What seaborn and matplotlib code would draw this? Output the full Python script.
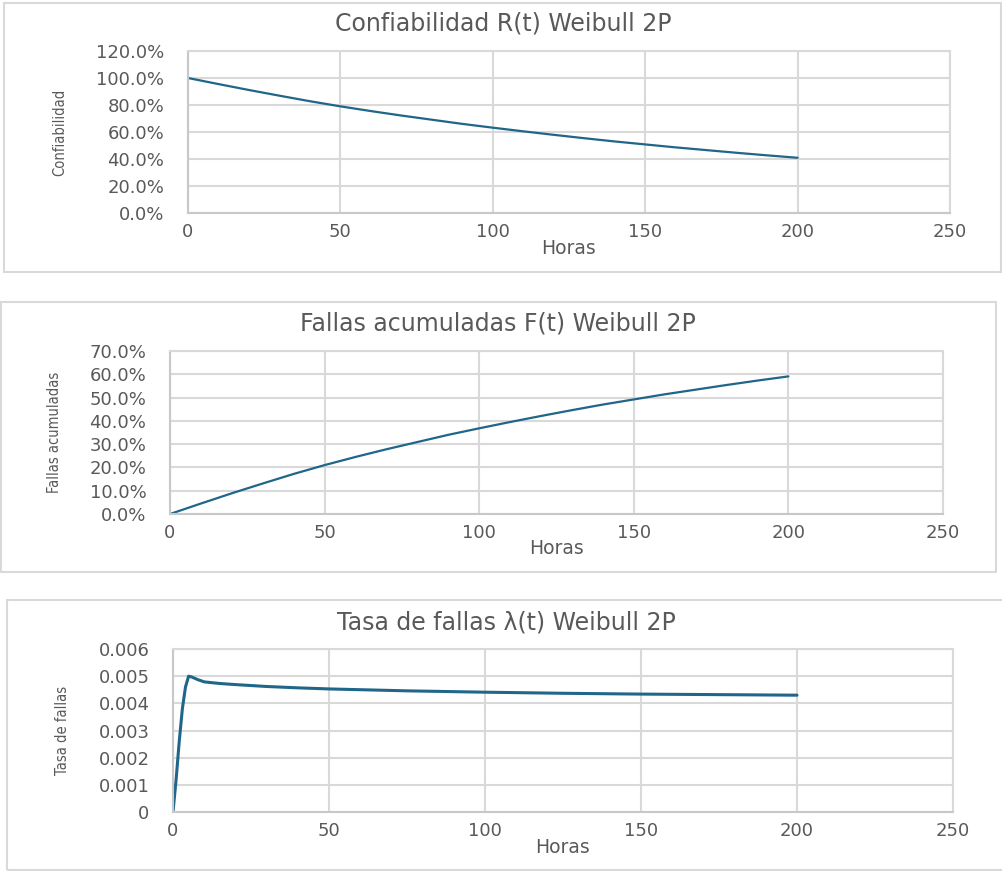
import matplotlib
matplotlib.use("Agg")
import matplotlib.pyplot as plt
import seaborn as sns
from matplotlib.patches import Rectangle
from matplotlib.ticker import PercentFormatter, FuncFormatter, MultipleLocator

# Weibull 2P results by operating hours
horas = [0, 10, 20, 30, 40, 50, 60, 70, 80, 90, 100,
         110, 120, 130, 140, 150, 160, 170, 180, 190, 200]
confiabilidad = [1.000, 0.955, 0.911, 0.869, 0.828, 0.790, 0.755, 0.722, 0.691, 0.660, 0.632,
                 0.605, 0.579, 0.554, 0.530, 0.508, 0.486, 0.466, 0.446, 0.427, 0.409]
fallas_acum = [0.000, 0.045, 0.089, 0.131, 0.172, 0.210, 0.245, 0.278, 0.309, 0.340, 0.368,
               0.395, 0.421, 0.446, 0.470, 0.492, 0.514, 0.534, 0.554, 0.573, 0.591]

horas_tasa = [0, 1, 2, 3, 4, 5, 6, 8, 10, 15, 20, 30, 40, 50,
              75, 100, 125, 150, 175, 200]
tasa_fallas = [0.0, 0.0012, 0.0026, 0.0038, 0.0046, 0.0050, 0.00497, 0.00487, 0.00479,
               0.00473, 0.00469, 0.00462, 0.00457, 0.00453, 0.00446, 0.00441,
               0.00437, 0.00434, 0.00432, 0.00430]

titulos = ["Confiabilidad R(t) Weibull 2P",
           "Fallas acumuladas F(t) Weibull 2P",
           "Tasa de fallas λ(t) Weibull 2P"]
etiquetas_y = ["Confiabilidad", "Fallas acumuladas", "Tasa de fallas"]
etiqueta_x = "Horas"

LINE = "#1F6689"
GRID = "#D9D9D9"
TEXT = "#595959"

sns.set_theme(style="white")
plt.rcParams["font.family"] = ["DejaVu Sans"]

W, H = 1003, 871
fig = plt.figure(figsize=(W / 100, H / 100), dpi=100)
fig.patch.set_facecolor("white")


def frame(x0, y0, x1, y1):
    fig.patches.append(Rectangle((x0 / W, 1 - y1 / H), (x1 - x0) / W, (y1 - y0) / H,
                                 transform=fig.transFigure, fill=False,
                                 ec=GRID, lw=1.5, zorder=0))


def panel(box, ylabel_x, xlabel_y):
    l, t, r, b = box
    ax = fig.add_axes([l / W, 1 - b / H, (r - l) / W, (b - t) / H])
    ax.set_facecolor("white")
    ax.grid(True, color=GRID, lw=1.5)
    ax.set_axisbelow(True)
    for name, sp in ax.spines.items():
        sp.set_visible(True)
        sp.set_color("#C8C8C8" if name in ("left", "bottom") else GRID)
        sp.set_linewidth(1.5)
    ax.tick_params(length=0, colors=TEXT, labelsize=13)
    ax.tick_params(axis="y", pad=17)
    ax.tick_params(axis="x", pad=7)
    ax.set_xlim(0, 250)
    ax.xaxis.set_major_locator(MultipleLocator(50))
    ax.set_xlabel(etiqueta_x, color=TEXT, fontsize=13.5)
    ax.xaxis.set_label_coords(((l + r) / 2 - l) / (r - l), (b - xlabel_y) / (b - t))
    ax.xaxis.label.set_va("center")
    ax.yaxis.set_label_coords((ylabel_x - l) / (r - l), 0.5)
    ax.yaxis.label.set_va("center")
    return ax


def titulo(x, y, s):
    fig.text(x / W, 1 - y / H, s, color=TEXT, fontsize=17, ha="center", va="center")


# Reliability R(t)
ax1 = panel((188, 51, 950, 213), 60, 248)
sns.lineplot(x=horas, y=confiabilidad, ax=ax1, color=LINE, lw=1.6)
ax1.set_ylim(0, 1.2)
ax1.yaxis.set_major_locator(MultipleLocator(0.2))
ax1.yaxis.set_major_formatter(PercentFormatter(xmax=1, decimals=1))
ax1.set_ylabel(etiquetas_y[0], color=TEXT, fontsize=10.5, fontstretch="condensed")
titulo(503, 23, titulos[0])
frame(4, 3, 1001, 272)

# Cumulative failures F(t)
ax2 = panel((170, 351, 943, 514), 55, 548)
sns.lineplot(x=horas, y=fallas_acum, ax=ax2, color=LINE, lw=1.6)
ax2.set_ylim(0, 0.7)
ax2.yaxis.set_major_locator(MultipleLocator(0.1))
ax2.yaxis.set_major_formatter(PercentFormatter(xmax=1, decimals=1))
ax2.set_ylabel(etiquetas_y[1], color=TEXT, fontsize=10.5, fontstretch="condensed")
titulo(498, 323, titulos[1])
frame(1, 302, 996, 572)

# Failure rate λ(t)
ax3 = panel((173, 649, 953, 812), 63, 847)
sns.lineplot(x=horas_tasa, y=tasa_fallas, ax=ax3, color=LINE, lw=2.2)
ax3.set_ylim(0, 0.006)
ax3.yaxis.set_major_locator(MultipleLocator(0.001))
ax3.yaxis.set_major_formatter(FuncFormatter(lambda v, p: "0" if abs(v) < 1e-12 else f"{v:.3f}"))
ax3.set_ylabel(etiquetas_y[2], color=TEXT, fontsize=10.5, fontstretch="condensed")
titulo(506, 622, titulos[2])
frame(7, 600, 1010, 870)

fig.savefig("out.png", dpi=100, facecolor="white")
